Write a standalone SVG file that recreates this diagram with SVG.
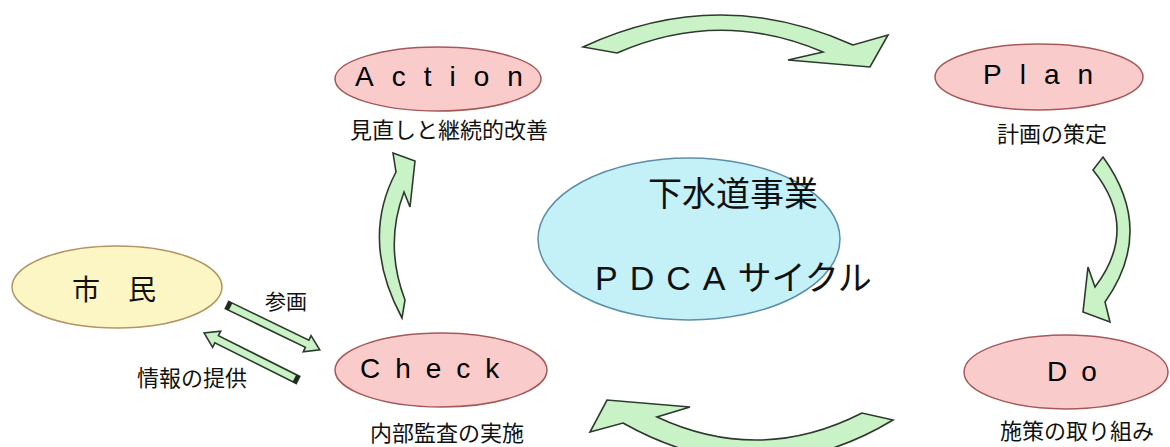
<svg xmlns="http://www.w3.org/2000/svg" width="1170" height="447" viewBox="0 0 1170 447">
<style>
.pink{fill:#f9cbcb;stroke:#a45a5a;stroke-width:1.5}
.cyan{fill:#c4f0f8;stroke:#5d8ea8;stroke-width:1.5}
.yellow{fill:#fcf5c4;stroke:#b39463;stroke-width:1.5}
.arrow{fill:#c9f2c6;stroke:#2e3a2e;stroke-width:1.6;stroke-linejoin:miter}
.lat{font-family:"Liberation Sans",Arial,sans-serif;font-size:28px;fill:#000}
.jp{font-family:"Noto Sans CJK JP","Liberation Sans",sans-serif;fill:#111}
.sub{font-size:22px}
</style>
<rect width="1170" height="447" fill="#ffffff"/>
<g id="connectors">
  <path class="arrow" d="M583,47 Q718,-16 853,45 L888,35 L870,67 L788,60 L823,52 Q720,8 617,53 Z"/>
  <path class="arrow" d="M1103,157 Q1156,230 1105,302 L1110,322 L1083,312 L1088,267 L1095,287 Q1140,228 1093,170 Z"/>
  <path class="arrow" d="M893,420 L862,413 Q760,465 657,417 L690,407 L607,400 L590,432 L623,423 Q760,500 893,420 Z"/>
  <path class="arrow" d="M393,153 L415,161 L410,207 L404,192 Q384,245 405,300 L402,318 Q360,240 396,172 Z"/>
  <g transform="translate(227,305) rotate(25.8)">
    <polygon class="arrow" points="0,-4 89,-4 89,-9 103,0 89,9 89,4 0,4"/>
    <rect x="0" y="-4" width="4" height="8" fill="#1e2a1e"/>
  </g>
  <g transform="translate(298,380) rotate(206.6)">
    <polygon class="arrow" points="0,-4 91,-4 91,-9 105,0 91,9 91,4 0,4"/>
    <rect x="0" y="-4" width="4" height="8" fill="#1e2a1e"/>
  </g>
  <text class="jp" x="265" y="309" font-size="21">参画</text>
  <text class="jp sub" x="137" y="386">情報の提供</text>
</g>
<g id="center">
  <ellipse class="cyan" cx="689" cy="239" rx="151" ry="81"/>
  <text class="jp" x="648" y="206" font-size="34">下水道事業</text>
  <text class="jp" x="595" y="290" font-size="34"><tspan font-family="Liberation Sans, Arial, sans-serif" letter-spacing="12">PDCA</tspan>サイクル</text>
</g>
<g id="action">
  <ellipse class="pink" cx="438" cy="79" rx="103" ry="32"/>
  <text class="lat" x="355" y="86" letter-spacing="18">Action</text>
  <text class="jp sub" x="350" y="138">見直しと継続的改善</text>
</g>
<g id="plan">
  <ellipse class="pink" cx="1039" cy="77" rx="104" ry="33"/>
  <text class="lat" x="983" y="84" letter-spacing="18">Plan</text>
  <text class="jp sub" x="997" y="142">計画の策定</text>
</g>
<g id="do">
  <ellipse class="pink" cx="1066" cy="372" rx="102" ry="37"/>
  <text class="lat" x="1047" y="381" letter-spacing="14">Do</text>
  <text class="jp sub" x="1000" y="439">施策の取り組み</text>
</g>
<g id="check">
  <ellipse class="pink" cx="441" cy="370" rx="106" ry="37"/>
  <text class="lat" x="360" y="378" letter-spacing="15">Check</text>
  <text class="jp sub" x="370" y="441">内部監査の実施</text>
</g>
<g id="shimin">
  <ellipse class="yellow" cx="117" cy="287" rx="105" ry="41"/>
  <text class="jp" x="72" y="300" font-size="28">市　民</text>
</g>
</svg>
